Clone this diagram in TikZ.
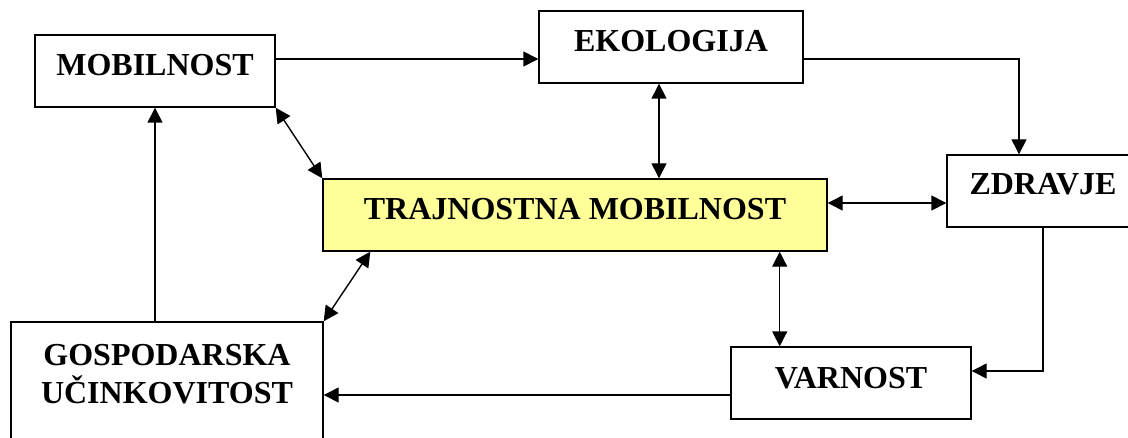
\documentclass[tikz,border=0pt]{standalone}
\usepackage{fontspec}
\setmainfont{Liberation Serif}
\usepackage{tikz}
\usetikzlibrary{arrows.meta}
\definecolor{paleyellow}{RGB}{255,255,153}
\tikzset{box/.style={draw,line width=0.7pt,inner sep=0pt,text height=20.5pt,text depth=15.5pt,font=\fontsize{16}{18.4}\selectfont\bfseries},
tip/.style={line width=0.7pt,-{Triangle[length=7.5pt,width=7.5pt]}},
tips/.style={line width=0.7pt,{Triangle[length=7.5pt,width=7.5pt]}-{Triangle[length=7.5pt,width=7.5pt]}}}

\begin{document}
\begin{tikzpicture}[x=0.5pt,y=-0.5pt]%[scale=1.0]
\clip (0,0) rectangle (1128,438);
\node[box,minimum width=120pt] (mob) at (155,71) {MOBILNOST};
\node[box,minimum width=132pt] (eko) at (671,47) {EKOLOGIJA};
\node[box,minimum width=96pt,text height=20pt,text depth=16pt] (zdr) at (1043,191) {ZDRAVJE};
\node[box,minimum width=252pt,fill=paleyellow] (traj) at (575,215) {TRAJNOSTNA MOBILNOST};
\node[box,minimum width=120pt] (var) at (851,383) {VARNOST};
\node[box,minimum width=156pt,text height=21.5pt,text depth=47.5pt] (gosp) at (167,391) {\begin{tabular}[t]{@{}c@{}}GOSPODARSKA\\UČINKOVITOST\end{tabular}};
% one way arrows
\draw[tip] ([yshift=6pt]mob.east) -- ([yshift=6pt]mob.east -| eko.west);
\draw[tip] ([yshift=-6pt]eko.east) -| ([xshift=-12pt]zdr.north);
\draw[tip] (zdr.south) |- ([yshift=6pt]var.east);
\draw[tip] ([yshift=-6pt]var.west) -- ([yshift=-6pt]var.west -| gosp.east);
\draw[tip] (gosp.north -| mob.south) -- (mob.south);
% both ways to the middle
\draw[tips] (mob.south east) -- (traj.north west);
\draw[tips] ([xshift=-6pt]eko.south) -- ([xshift=-6pt]eko.south |- traj.north);
\draw[tips] ([yshift=6pt]traj.east) -- ([yshift=6pt]traj.east -| zdr.west);
\draw[tips] ([xshift=24pt]traj.south west) -- (gosp.north east);
\draw[tips] ([xshift=-24pt]traj.south east) -- ([xshift=-24pt]traj.south east |- var.north);
\end{tikzpicture}
\end{document}
